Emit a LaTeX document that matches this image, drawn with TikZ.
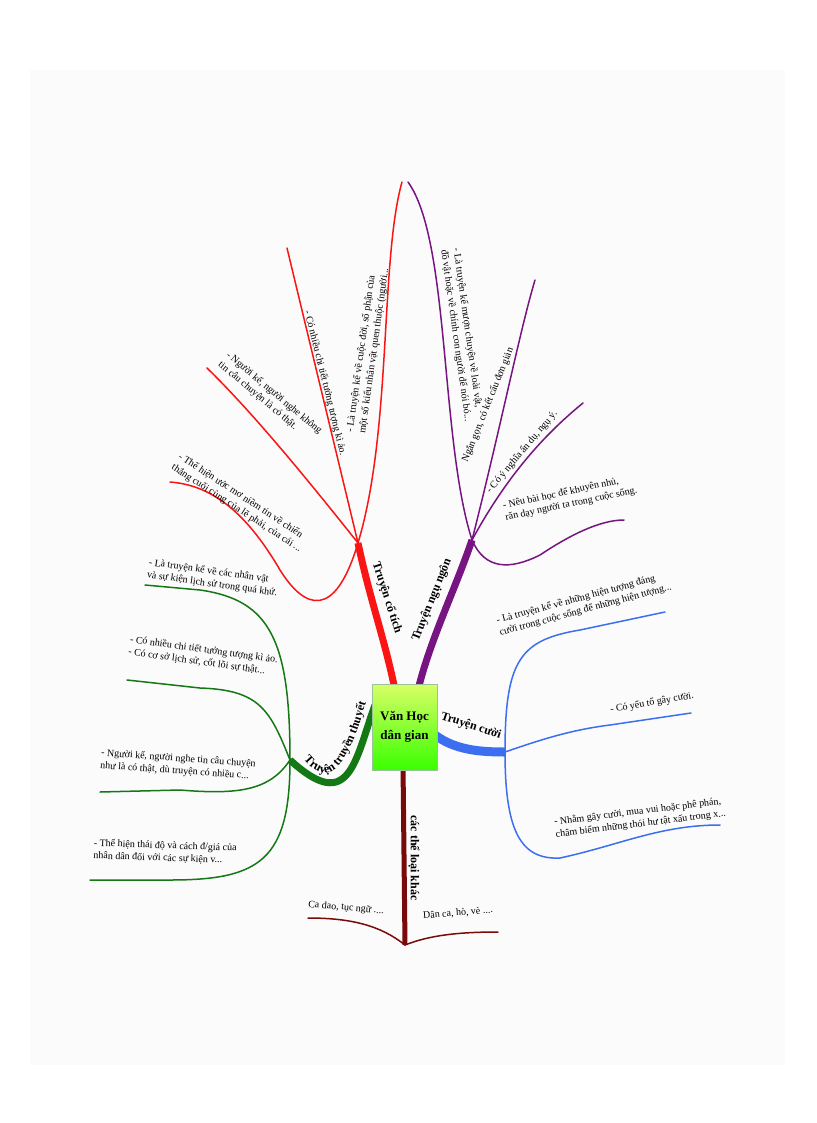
\documentclass[tikz,border=0pt]{standalone}
\usepackage{fontspec}
\setmainfont{Liberation Serif}
\usetikzlibrary{decorations.text}
\definecolor{cred}{RGB}{250,20,20}
\definecolor{cpur}{RGB}{120,20,130}
\definecolor{cgrn}{RGB}{20,120,20}
\definecolor{cblu}{RGB}{60,110,240}
\definecolor{cdrd}{RGB}{120,10,10}
\tikzset{
 sub/.style={font=\fontsize{10}{12.5}\selectfont, align=left, inner sep=1pt},
 lab/.style={font=\bfseries\fontsize{12}{13}\selectfont, inner sep=1pt},
 twig/.style={line width=1.5pt, line cap=round},
}
\begin{document}
\begin{tikzpicture}[x=1pt,y=-1pt]
\useasboundingbox (0,0) rectangle (816,1123);
\fill[white] (0,0) rectangle (816,1123);
\fill[black!1.5] (30,70) rectangle (785,1065);
% hubs
\coordinate (hr) at (358,543);
\coordinate (hp) at (472,540);
\coordinate (hg) at (290,760);
\coordinate (hb) at (505,752);
\coordinate (hd) at (405,945);
% main branches
\draw[cred, line width=7pt] (395,690) .. controls (385,640) and (370,600) .. (hr);
\draw[cpur, line width=7pt] (418,690) .. controls (430,640) and (455,590) .. (hp);
\draw[cgrn, line width=7pt] (375,705) .. controls (355,760) and (350,815) .. (hg);
\draw[cblu, line width=9pt] (435,735) .. controls (455,750) and (480,752) .. (hb);
\draw[cdrd, line width=5pt] (403,765) -- (hd);
% red subs
\coordinate (r1) at (402,182);\coordinate (r2) at (287,248);\coordinate (r3) at (207,368);\coordinate (r4) at (170,482);
\draw[cred,twig] (hr) .. controls (392,430) and (380,260) .. (r1);
\draw[cred,twig] (hr) -- (r2);
\draw[cred,twig] (hr) .. controls (300,470) and (250,410) .. (r3);
\draw[cred,twig] (hr) .. controls (335,620) and (305,610) .. (280,570) .. controls (245,510) and (210,485) .. (r4);
\node[sub,rotate=82] (tr1) at (368,350) {- Là truyện kể về cuộc đời, số phận của\\một số kiểu nhân vật quen thuộc (người...};
\node[sub,rotate=-76] (tr2) at (325,383) {- Có nhiều chi tiết tưởng tượng kì ảo.};
\node[sub,rotate=-40] (tr3) at (270,398) {- Người kể, người nghe không\\tin câu chuyện là có thật.};
\node[sub,rotate=-33] (tr4) at (240,503) {- Thể hiện ước mơ niềm tin về chiến\\thắng cuối cùng của lẽ phải, của cái ...};
\node[lab,rotate=-72] (lr) at (387,598) {Truyện cổ tích};
% purple subs
\coordinate (p1) at (408,182);\coordinate (p2) at (535,280);\coordinate (p3) at (583,403);\coordinate (p4) at (624,520);
\draw[cpur,twig] (hp) .. controls (440,440) and (450,240) .. (p1);
\draw[cpur,twig] (hp) .. controls (500,430) and (520,330) .. (p2);
\draw[cpur,twig] (hp) .. controls (510,470) and (550,430) .. (p3);
\draw[cpur,twig] (hp) .. controls (485,570) and (510,570) .. (540,555) .. controls (570,535) and (600,520) .. (p4);
\node[sub,rotate=-82] (tp1) at (462,335) {- Là truyện kể mượn chuyện về loài vật,\\đồ vật hoặc về chính con người để nói bó...};
\node[sub,rotate=68] (tp2) at (488,405) {Ngắn gọn, có kết cấu đơn giản};
\node[sub,rotate=50] (tp3) at (522,452) {- Có ý nghĩa ẩn dụ, ngụ ý.};
\node[sub,rotate=12] (tp4) at (570,498) {- Nêu bài học để khuyên nhủ,\\răn dạy người ta trong cuộc sống.};
\node[lab,rotate=68] (lp) at (432,600) {Truyện ngụ ngôn};
% green subs
\coordinate (g1) at (145,585);\coordinate (g2) at (127,680);\coordinate (g3) at (100,792);\coordinate (g4) at (90,880);
\draw[cgrn,twig] (hg) .. controls (290,640) and (270,600) .. (200,590) -- (g1);
\draw[cgrn,twig] (hg) .. controls (270,710) and (260,690) .. (200,688) -- (g2);
\draw[cgrn,twig] (hg) .. controls (270,790) and (240,795) .. (180,790) -- (g3);
\draw[cgrn,twig] (hg) .. controls (290,860) and (260,880) .. (170,880) -- (g4);
\node[sub,rotate=-8] (tg1) at (213,578) {- Là truyện kể về các nhân vật\\và sự kiện lịch sử trong quá khứ.};
\node[sub,rotate=-8] (tg2) at (203,656) {- Có nhiều chi tiết tưởng tượng kì ảo.\\- Có cơ sở lịch sử, cốt lõi sự thật...};
\node[sub,rotate=-4] (tg3) at (178,765) {- Người kể, người nghe tin câu chuyện\\như là có thật, dù truyện có nhiều c...};
\node[sub,rotate=-2] (tg4) at (165,852) {- Thể hiện thái độ và cách đ/giá của\\nhân dân đối với các sự kiện v...};
\path[decorate,decoration={text along path,text align=center,text={|\bfseries\fontsize{12}{13}\selectfont|Truyện truyền thuyết}}]
 (290,740) .. controls (318,785) and (342,800) .. (372,680);
% blue subs
\coordinate (b1) at (665,612);\coordinate (b2) at (691,713);\coordinate (b3) at (720,825);
\draw[cblu,twig] (hb) .. controls (505,660) and (520,640) .. (580,630) -- (b1);
\draw[cblu,twig] (hb) .. controls (540,740) and (570,730) .. (610,725) -- (b2);
\draw[cblu,twig] (hb) .. controls (505,830) and (520,860) .. (560,858) .. controls (620,845) and (660,825) .. (b3);
\node[sub,rotate=15] (tb1) at (584,604) {- Là truyện kể về những hiện tượng đáng\\cười trong cuộc sống để những hiện tượng...};
\node[sub,rotate=10] (tb2) at (652,703) {- Có yếu tố gây cười.};
\node[sub,rotate=7] (tb3) at (640,818) {- Nhằm gây cười, mua vui hoặc phê phán,\\châm biếm những thói hư tật xấu trong x...};
\node[lab,rotate=-18] (lb) at (471,726) {Truyện cười};
% dark red subs
\coordinate (d1) at (308,918);\coordinate (d2) at (498,932);
\draw[cdrd,twig] (hd) .. controls (380,925) and (350,918) .. (d1);
\draw[cdrd,twig] (hd) .. controls (430,935) and (460,932) .. (d2);
\node[sub,rotate=-5] (td1) at (346,908) {Ca dao, tục ngữ ....};
\node[sub,rotate=5] (td2) at (458,913) {Dân ca, hò, vè ....};
\node[lab,rotate=-90] (ld) at (414,858) {các thể loại khác};
% center
\shade[top color=green!25!yellow!60, bottom color=green!70!lime, draw=green!40!black!40] (372,684) rectangle (437,770);
\node[font=\bfseries\fontsize{13}{19}\selectfont, align=center] (c) at (404.5,727) {Văn Học\\dân gian};
\end{tikzpicture}
\end{document}
